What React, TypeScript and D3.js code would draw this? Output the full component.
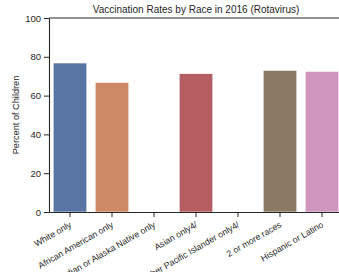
import { useRef, useEffect } from 'react'
import * as d3 from 'd3'

const categories = [
  'White only',
  'African American only',
  'American Indian or Alaska Native only',
  'Asian only4/',
  'Native Hawaiian or Other Pacific Islander only4/',
  '2 or more races',
  'Hispanic or Latino',
]
const rates: (number | null)[] = [76.8, 66.8, null, 71.3, null, 73.0, 72.5]
const colors = ['#5975a4', '#cc8963', '#5f9e6e', '#b55d60', '#857aab', '#8d7866', '#d095bf']
const yTicks = [0, 20, 40, 60, 80, 100]

const App = () => {
  const chartRef = useRef<SVGSVGElement>(null)

  useEffect(() => {
    drawChart()
  }, [])

  const drawChart = () => {
    const svg = d3.select(chartRef.current)
    svg.selectAll('*').remove()
    const font = '"Liberation Sans", Arial, sans-serif'
    const ink = '#262626'

    const x = d3.scaleBand()
      .domain(categories)
      .range([49, 343])
      .paddingInner(0.2)
      .paddingOuter(0.1)

    const y = d3.scaleLinear()
      .domain([0, 100])
      .range([212, 18])

    const data = categories.map((c, i) => ({ name: c, value: rates[i], color: colors[i] }))

    svg.append('g')
      .selectAll('rect')
      .data(data.filter((d) => d.value !== null))
      .enter().append('rect')
      .attr('x', (d) => x(d.name)!)
      .attr('y', (d) => y(d.value as number))
      .attr('width', x.bandwidth())
      .attr('height', (d) => y(0) - y(d.value as number))
      .attr('fill', (d) => d.color)
      .attr('stroke', '#ffffff')
      .attr('stroke-width', 0.6)

    // top spine
    svg.append('line')
      .attr('x1', 49).attr('x2', 343)
      .attr('y1', y(100)).attr('y2', y(100))
      .attr('stroke', ink).attr('stroke-width', 1)

    const xAxis = svg.append('g')
      .attr('transform', `translate(0,${y(0)})`)
      .call(d3.axisBottom(x).tickSize(5).tickSizeOuter(0))
    xAxis.select('.domain').attr('stroke', ink).attr('stroke-width', 1.1)
    xAxis.selectAll('.tick line').attr('stroke', ink)
    xAxis.selectAll('text')
      .style('text-anchor', 'end')
      .attr('font-family', font)
      .attr('font-size', 8.8)
      .attr('fill', ink)
      .attr('dx', '0')
      .attr('dy', '0')
      .attr('transform', 'translate(-2,7.5) rotate(-30)')

    const yAxis = svg.append('g')
      .attr('transform', 'translate(49,0)')
      .call(d3.axisLeft(y).tickValues(yTicks).tickSize(5).tickSizeOuter(0))
    yAxis.select('.domain').attr('stroke', ink).attr('stroke-width', 1.1)
    yAxis.selectAll('.tick line').attr('stroke', ink)
    yAxis.selectAll('text')
      .attr('font-family', font)
      .attr('font-size', 9.5)
      .attr('fill', ink)

    svg.append('text')
      .attr('x', 196)
      .attr('y', 13)
      .attr('text-anchor', 'middle')
      .attr('font-family', font)
      .attr('font-size', 10)
      .attr('fill', ink)
      .text('Vaccination Rates by Race in 2016 (Rotavirus)')

    svg.append('text')
      .attr('transform', `translate(19,${y(50)}) rotate(-90)`)
      .attr('text-anchor', 'middle')
      .attr('font-family', font)
      .attr('font-size', 9.2)
      .attr('fill', ink)
      .text('Percent of Children')
  }

  return (
    <svg
      ref={chartRef}
      width={339}
      height={272}
      style={{ position: 'fixed', left: 0, top: 0, background: '#ffffff' }}
    ></svg>
  )
}

export default App
